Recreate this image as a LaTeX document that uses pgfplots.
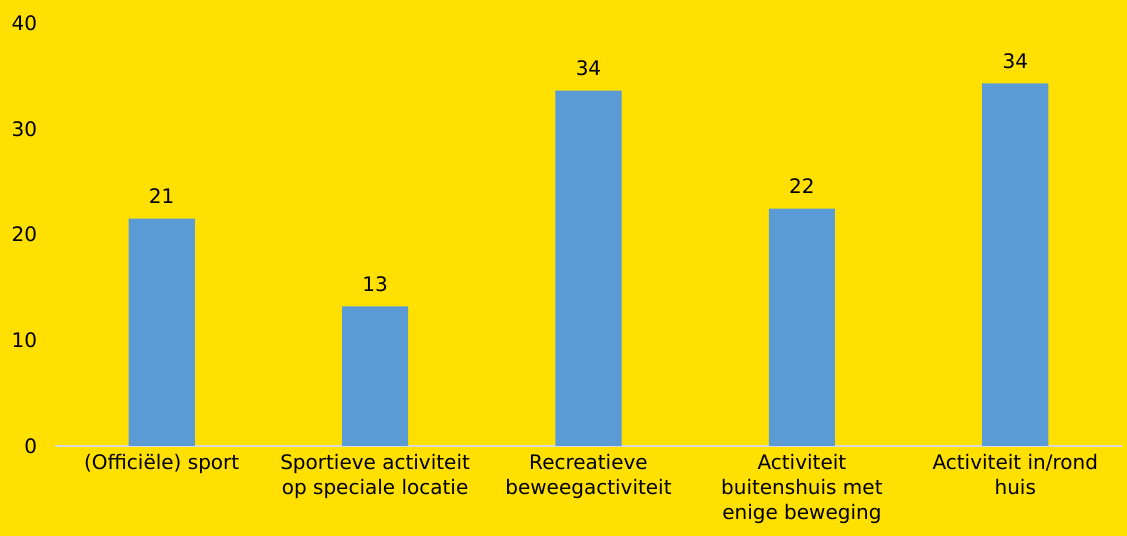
\documentclass[border=0pt]{standalone}
\usepackage{pgfplots}
\pgfplotsset{compat=1.18}
\usepackage{fontspec}
\setmainfont{DejaVu Sans}
\definecolor{bgyellow}{HTML}{FFE000}
\definecolor{barblue}{HTML}{5B9BD5}
\definecolor{axisgray}{HTML}{D9D9D9}
\begin{document}
\fontsize{20bp}{25bp}\selectfont
\begin{tikzpicture}
\fill[bgyellow] (0,0) rectangle (1127bp,536bp);
\useasboundingbox (0,0) rectangle (1127bp,536bp);
\begin{axis}[
  at={(55bp,90bp)}, anchor=south west,
  scale only axis,
  width=1067bp, height=423bp,
  xmin=-0.5, xmax=4.5,
  ymin=0, ymax=40,
  ytick={0,10,20,30,40},
  xtick=data,
  xticklabels={{(Officiële) sport},{Sportieve activiteit\\op speciale locatie},{Recreatieve\\beweegactiviteit},{Activiteit\\buitenshuis met\\enige beweging},{Activiteit in/rond\\huis}},
  x tick label style={align=center, font=\fontsize{20bp}{25bp}\selectfont, yshift=-1bp},
  y tick label style={font=\fontsize{20bp}{25bp}\selectfont, xshift=-11bp},
  /pgf/number format/assume math mode=true,
  axis x line*=bottom,
  axis y line*=left,
  y axis line style={draw=none},
  x axis line style={axisgray, line width=2.5bp, -},
  major tick length=0pt,
  tick style={draw=none},
  axis background/.style={fill=none},
  clip=false,
  ybar, bar width=0.31,
  nodes near coords={\pgfplotspointmeta},
  point meta=explicit symbolic,
  every node near coord/.append style={font=\fontsize{20bp}{25bp}\selectfont, text=black, anchor=south, yshift=8bp},
]
\addplot[fill=barblue, draw=none] table[x=x, y=y, meta=lbl] {
x y lbl
0 21.5 21
1 13.2 13
2 33.6 34
3 22.45 22
4 34.3 34
};
\end{axis}
\end{tikzpicture}
\end{document}
